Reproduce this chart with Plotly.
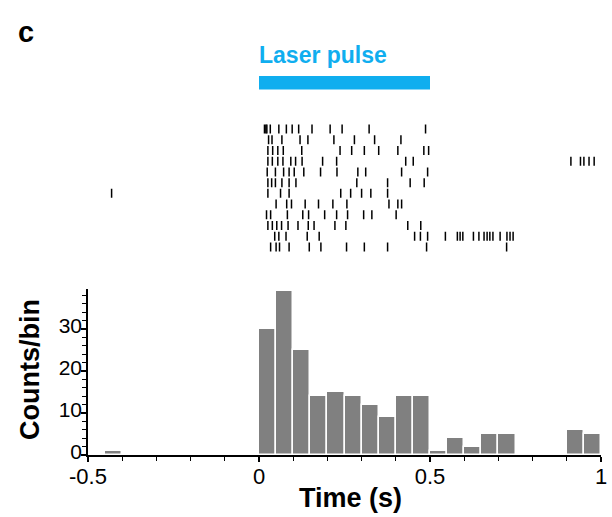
import plotly.graph_objects as go

# ---------------- data ----------------
# Raster: spike times (s) for each trial, top row first
trial_01 = [0.016, 0.020, 0.023, 0.033, 0.058, 0.080, 0.097, 0.116, 0.155, 0.208, 0.243, 0.322, 0.487]
trial_02 = [0.028, 0.038, 0.067, 0.120, 0.143, 0.219, 0.279, 0.338, 0.415]
trial_03 = [0.026, 0.040, 0.055, 0.071, 0.125, 0.237, 0.271, 0.308, 0.350, 0.406, 0.482, 0.496]
trial_04 = [0.026, 0.039, 0.055, 0.070, 0.093, 0.107, 0.126, 0.186, 0.227, 0.429, 0.451,
            0.912, 0.940, 0.950, 0.965, 0.980]
trial_05 = [0.024, 0.048, 0.072, 0.088, 0.103, 0.131, 0.180, 0.228, 0.289, 0.312, 0.417, 0.493]
trial_06 = [0.026, 0.037, 0.048, 0.067, 0.088, 0.108, 0.286, 0.376, 0.442, 0.483]
trial_07 = [-0.431, 0.026, 0.063, 0.088, 0.239, 0.268, 0.300, 0.327, 0.376]
trial_08 = [0.050, 0.081, 0.095, 0.135, 0.174, 0.216, 0.257, 0.380, 0.406, 0.417]
trial_09 = [0.022, 0.034, 0.083, 0.128, 0.145, 0.192, 0.227, 0.259, 0.306, 0.330, 0.401]
trial_10 = [0.026, 0.039, 0.052, 0.066, 0.085, 0.114, 0.144, 0.161, 0.222, 0.254, 0.435, 0.473]
trial_11 = [0.046, 0.058, 0.079, 0.141, 0.176, 0.455, 0.472, 0.493, 0.545, 0.580, 0.588, 0.596,
            0.627, 0.643, 0.658, 0.667, 0.675, 0.684, 0.705, 0.725, 0.734, 0.743]
trial_12 = [0.034, 0.050, 0.060, 0.088, 0.147, 0.181, 0.256, 0.308, 0.376, 0.490, 0.724]
trials = [trial_01, trial_02, trial_03, trial_04, trial_05, trial_06,
          trial_07, trial_08, trial_09, trial_10, trial_11, trial_12]

# Histogram: bin left edges (s) and counts per bin
bin_width = 0.05
bin_left = [-0.45, 0.00, 0.05, 0.10, 0.15, 0.20, 0.25, 0.30, 0.35, 0.40, 0.45,
            0.50, 0.55, 0.60, 0.65, 0.70, 0.90, 0.95]
bin_counts = [1, 30, 39, 25, 14, 15, 14, 12, 9, 14, 14,
              1, 4, 2, 5, 5, 6, 5]

x_tickvals = [-0.5, 0, 0.5, 1]
x_ticktext = ["-0.5", "0", "0.5", "1"]
y_tickvals = [0, 10, 20, 30]
y_ticktext = ["0", "10", "20", "30"]

laser_on, laser_off = 0.0, 0.5

# ---------------- figure ----------------
W, H = 612, 517
FONT = "Liberation Sans, Arial, Helvetica, sans-serif"

def px_x(p):
    return p / W

def px_y(p):
    return 1 - p / H

fig = go.Figure()

# histogram
fig.add_trace(go.Bar(
    x=[b + bin_width / 2 for b in bin_left],
    y=bin_counts,
    width=bin_width,
    marker=dict(color="#808080", line=dict(color="#ffffff", width=1.5)),
    xaxis="x", yaxis="y", showlegend=False, hoverinfo="skip",
))

# raster
rx, ry = [], []
for i, tr in enumerate(trials):
    row = i + 1
    for t in tr:
        rx += [t, t, None]
        ry += [row - 0.42, row + 0.42, None]
fig.add_trace(go.Scatter(
    x=rx, y=ry, mode="lines", line=dict(color="black", width=1.5),
    xaxis="x2", yaxis="y2", showlegend=False, hoverinfo="skip",
))

xdom = [px_x(88), px_x(601)]

fig.update_layout(
    width=W, height=H,
    margin=dict(l=0, r=0, t=0, b=0, autoexpand=False),
    paper_bgcolor="white", plot_bgcolor="white",
    font=dict(family=FONT, color="black", size=20),
    bargap=0,
    xaxis=dict(
        domain=xdom, range=[-0.5, 1.0], anchor="y", automargin=False,
        showline=True, linecolor="black", linewidth=1.5,
        tickmode="array", tickvals=x_tickvals, ticktext=x_ticktext,
        ticks="outside", ticklen=5, tickwidth=1.5, tickcolor="black",
        ticklabelstandoff=-4,
        minor=dict(dtick=0.1, ticks="outside", ticklen=4, tickwidth=1.2, tickcolor="black"),
        showgrid=False, zeroline=False,
        tickfont=dict(size=22, family=FONT),
    ),
    yaxis=dict(
        domain=[px_y(455), px_y(289)], range=[0, 39.5], anchor="x", automargin=False,
        showline=True, linecolor="black", linewidth=1.5,
        tickmode="array", tickvals=y_tickvals, ticktext=y_ticktext,
        ticks="outside", ticklen=5, tickwidth=1.5, tickcolor="black",
        ticklabelstandoff=-5, ticklabelshift=-3,
        minor=dict(dtick=2, ticks="outside", ticklen=4, tickwidth=1.2, tickcolor="black"),
        showgrid=False, zeroline=False,
        tickfont=dict(size=21, family=FONT),
    ),
    xaxis2=dict(
        domain=xdom, range=[-0.5, 1.0], anchor="y2", automargin=False,
        visible=False,
    ),
    yaxis2=dict(
        domain=[px_y(252.4), px_y(123.6)], range=[12.5, 0.5], anchor="x2", automargin=False,
        visible=False,
    ),
)

# laser pulse bar
fig.add_shape(type="rect", xref="x", yref="paper",
              x0=laser_on, x1=laser_off, y0=px_y(89.5), y1=px_y(76),
              fillcolor="#10AEEF", line=dict(width=0))

annotations = [
    dict(text="<b>Laser pulse</b>", x=laser_on, xref="x", xanchor="left",
         y=px_y(55), yref="paper", yanchor="middle", showarrow=False,
         font=dict(size=23, color="#10AEEF", family=FONT), xshift=-2),
    dict(text="<b>c</b>", x=px_x(16), xref="paper", xanchor="left",
         y=px_y(32), yref="paper", yanchor="middle", showarrow=False,
         font=dict(size=29, color="black", family=FONT)),
    dict(text="<b>Time (s)</b>", x=px_x(350), xref="paper", xanchor="center",
         y=px_y(498), yref="paper", yanchor="middle", showarrow=False,
         font=dict(size=27, color="black", family=FONT)),
    dict(text="<b>Counts/bin</b>", x=px_x(30), xref="paper", xanchor="center",
         y=px_y(370), yref="paper", yanchor="middle", showarrow=False, textangle=-90,
         font=dict(size=27, color="black", family=FONT)),
]
fig.update_layout(annotations=annotations)

fig.write_html("out.html")
